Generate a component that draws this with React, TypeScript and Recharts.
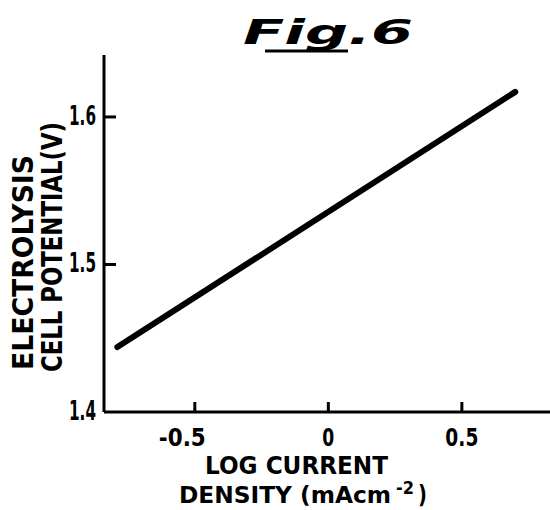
import React from "react";
import { LineChart, Line, XAxis, YAxis, Label } from "recharts";

// Data
const logCurrentDensity = [-0.79, 0.7];
const cellPotential = [1.444, 1.617];
const xTicks = [-0.5, 0, 0.5];
const xTickLabels = ["-0.5", "0", "0.5"];
const yTicks = [1.4, 1.5, 1.6];
const yTickLabels = ["1.4", "1.5", "1.6"];
const xLabelLines = ["LOG CURRENT", "DENSITY (mAcm", "-2", ")"];
const yLabelLines = ["ELECTROLYSIS", "CELL POTENTIAL(V)"];
const title = "Fig.6";

const data = logCurrentDensity.map((x, i) => ({ x, y: cellPotential[i] }));

const FONT = "'DejaVu Sans', 'Liberation Sans', sans-serif";
const WEIGHT = 600;
const xTickWidths = [47, 12, 33];

const XTick = (props: any) => {
  const { x, y, payload } = props;
  const i = xTicks.indexOf(payload.value);
  const neg = payload.value < 0;
  return (
    <g>
      <line x1={x} y1={y} x2={x} y2={y - 10} stroke="#000" strokeWidth={3} />
      <text
        x={neg ? x + 11 : x}
        y={y + 34}
        textAnchor={neg ? "end" : "middle"}
        fontFamily={FONT}
        fontWeight={WEIGHT}
        fontSize={25}
        fill="#000"
        textLength={xTickWidths[i]}
        lengthAdjust="spacingAndGlyphs"
      >
        {xTickLabels[i]}
      </text>
    </g>
  );
};

const YTick = (props: any) => {
  const { x, y, payload } = props;
  const i = yTicks.findIndex((v) => Math.abs(v - payload.value) < 1e-9);
  return (
    <g>
      {i > 0 && <line x1={x} y1={y} x2={x + 12} y2={y} stroke="#000" strokeWidth={3} />}
      <text
        x={x - 8}
        y={y + 8}
        textAnchor="end"
        fontFamily={FONT}
        fontWeight={WEIGHT}
        fontSize={27}
        fill="#000"
        textLength={27}
        lengthAdjust="spacingAndGlyphs"
      >
        {yTickLabels[i]}
      </text>
    </g>
  );
};

const XLabel = () => (
  <g fontFamily={FONT} fontWeight={WEIGHT} fill="#000">
    <text x={205} y={474} fontSize={25} textLength={183} lengthAdjust="spacingAndGlyphs">
      {xLabelLines[0]}
    </text>
    <text x={179} y={503} fontSize={23.5} textLength={212} lengthAdjust="spacingAndGlyphs">
      {xLabelLines[1]}
    </text>
    <text x={396} y={494} fontSize={18} textLength={18} lengthAdjust="spacingAndGlyphs">
      {xLabelLines[2]}
    </text>
    <text x={418} y={503} fontSize={24} textLength={9} lengthAdjust="spacingAndGlyphs">
      {xLabelLines[3]}
    </text>
  </g>
);

const YLabel = () => (
  <g fontFamily={FONT} fontWeight={WEIGHT} fill="#000">
    <text
      transform="translate(33,370) rotate(-90)"
      x={0}
      y={0}
      fontSize={28}
      textLength={215}
      lengthAdjust="spacingAndGlyphs"
    >
      {yLabelLines[0]}
    </text>
    <text
      transform="translate(62,372) rotate(-90)"
      x={0}
      y={0}
      fontSize={28}
      textLength={250}
      lengthAdjust="spacingAndGlyphs"
    >
      {yLabelLines[1]}
    </text>
  </g>
);

export default function App() {
  return (
    <div style={{ position: "absolute", left: 0, top: 0, width: 550, height: 510, background: "#fff" }}>
      <LineChart
        width={550}
        height={510}
        data={data}
        margin={{ top: 55, right: 0, bottom: 0, left: 0 }}
      >
        <XAxis
          dataKey="x"
          type="number"
          domain={[-0.84, 0.83]}
          ticks={xTicks}
          height={98}
          tickSize={0}
          tickMargin={0}
          tickLine={false}
          axisLine={{ stroke: "#000", strokeWidth: 3 }}
          tick={<XTick />}
          allowDataOverflow
        >
          <Label content={<XLabel />} />
        </XAxis>
        <YAxis
          dataKey="y"
          type="number"
          domain={[1.4, 1.642]}
          ticks={yTicks}
          width={104}
          tickSize={0}
          tickMargin={0}
          tickLine={false}
          axisLine={{ stroke: "#000", strokeWidth: 3 }}
          tick={<YTick />}
          allowDataOverflow
        >
          <Label content={<YLabel />} />
        </YAxis>
        <Line
          dataKey="y"
          stroke="#000"
          strokeWidth={6}
          strokeLinecap="round"
          dot={false}
          isAnimationActive={false}
        />
      </LineChart>
      <svg
        width={550}
        height={70}
        style={{ position: "absolute", left: 0, top: 0, pointerEvents: "none" }}
      >
        <text
          x={243}
          y={44}
          fontFamily={FONT}
          fontWeight="bold"
          fontStyle="italic"
          fontSize={34}
          fill="#000"
          textLength={170}
          lengthAdjust="spacingAndGlyphs"
        >
          {title}
        </text>
        <line x1={265} y1={51} x2={348} y2={51} stroke="#000" strokeWidth={3} />
      </svg>
    </div>
  );
}
